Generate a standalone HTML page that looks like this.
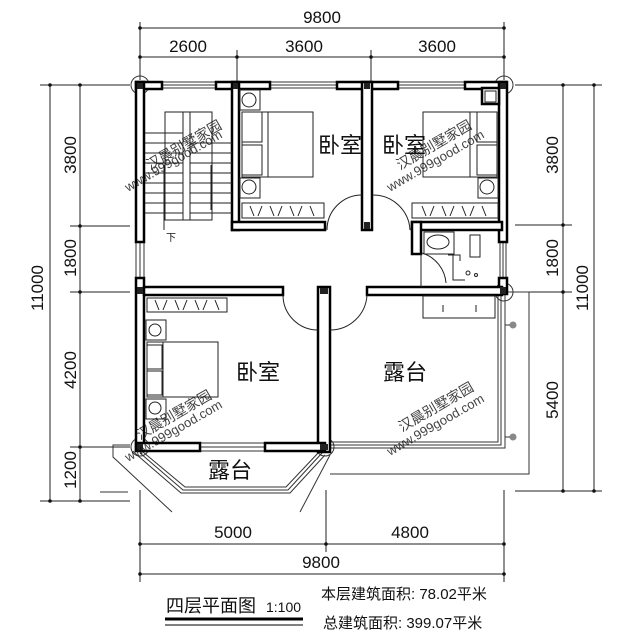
<!DOCTYPE html>
<html><head><meta charset="utf-8"><style>
html,body{margin:0;padding:0;background:#fff;}
svg{display:block;}
text{font-family:"Liberation Sans","Noto Sans CJK SC",sans-serif;fill:#111;}
</style></head><body>
<svg width="640" height="640" viewBox="0 0 640 640" xmlns="http://www.w3.org/2000/svg">
<g stroke="#222" stroke-width="1" fill="none">
<line x1="140" y1="28" x2="504" y2="28"/>
<line x1="140" y1="57" x2="504" y2="57"/>
<line x1="140" y1="22" x2="140" y2="80"/>
<line x1="504" y1="22" x2="504" y2="80"/>
<line x1="237" y1="50" x2="237" y2="90"/>
<line x1="371" y1="50" x2="371" y2="90"/>
<line x1="50" y1="85" x2="50" y2="501"/>
<line x1="80" y1="85" x2="80" y2="501"/>
<line x1="40" y1="85" x2="130" y2="85"/>
<line x1="70" y1="226" x2="130" y2="226"/>
<line x1="70" y1="292" x2="130" y2="292"/>
<line x1="70" y1="447" x2="130" y2="447"/>
<line x1="40" y1="501" x2="130" y2="501"/>
<line x1="563" y1="85" x2="563" y2="491"/>
<line x1="594" y1="85" x2="594" y2="491"/>
<line x1="515" y1="85" x2="602" y2="85"/>
<line x1="515" y1="225" x2="572" y2="225"/>
<line x1="515" y1="292" x2="572" y2="292"/>
<line x1="515" y1="491" x2="602" y2="491"/>
<line x1="140" y1="544" x2="504" y2="544"/>
<line x1="140" y1="574" x2="504" y2="574"/>
<line x1="140" y1="490" x2="140" y2="582"/>
<line x1="326" y1="490" x2="326" y2="552"/>
<line x1="504" y1="490" x2="504" y2="582"/>
</g>
<g fill="#111">
<circle cx="140" cy="28" r="1.8"/><circle cx="504" cy="28" r="1.8"/>
<circle cx="140" cy="57" r="1.8"/><circle cx="237" cy="57" r="1.8"/><circle cx="371" cy="57" r="1.8"/><circle cx="504" cy="57" r="1.8"/>
<circle cx="50" cy="85" r="1.8"/><circle cx="80" cy="85" r="1.8"/><circle cx="80" cy="226" r="1.8"/><circle cx="80" cy="292" r="1.8"/><circle cx="80" cy="447" r="1.8"/><circle cx="50" cy="501" r="1.8"/><circle cx="80" cy="501" r="1.8"/>
<circle cx="563" cy="85" r="1.8"/><circle cx="594" cy="85" r="1.8"/><circle cx="563" cy="225" r="1.8"/><circle cx="563" cy="292" r="1.8"/><circle cx="563" cy="491" r="1.8"/><circle cx="594" cy="491" r="1.8"/>
<circle cx="140" cy="544" r="1.8"/><circle cx="326" cy="544" r="1.8"/><circle cx="504" cy="544" r="1.8"/><circle cx="140" cy="574" r="1.8"/><circle cx="504" cy="574" r="1.8"/>
</g>
<g font-size="17" text-anchor="middle">
<text x="322" y="23">9800</text>
<text x="188" y="52">2600</text>
<text x="304" y="52">3600</text>
<text x="437" y="52">3600</text>
<text x="233" y="538">5000</text>
<text x="410" y="538">4800</text>
<text x="321" y="568">9800</text>
<text transform="translate(76,155) rotate(-90)">3800</text>
<text transform="translate(76,258) rotate(-90)">1800</text>
<text transform="translate(76,370) rotate(-90)">4200</text>
<text transform="translate(76,470) rotate(-90)">1200</text>
<text transform="translate(43,288) rotate(-90)">11000</text>
<text transform="translate(558,155) rotate(-90)">3800</text>
<text transform="translate(558,258) rotate(-90)">1800</text>
<text transform="translate(558,400) rotate(-90)">5400</text>
<text transform="translate(588,288) rotate(-90)">11000</text>
</g>
<g stroke="#333" fill="none" stroke-width="1">
<polyline points="507,292 529,292 529,474 330,474"/>
<polyline points="130,445 113,445 113,457 172,512"/>
<line x1="330" y1="455" x2="300" y2="512"/>
<line x1="100" y1="492" x2="128" y2="492"/>
<polyline points="140,453 183,490 288,490 322,453"/>
<polyline points="143,452 185,487 286,487 319,452"/>
<polyline points="137,455 181,493 290,493 325,455"/>
<polyline points="330,442 498,442 498,292"/>
<polyline points="330,445 501,445 501,292"/>
<polyline points="330,448 505,448 505,292"/>
<circle cx="140" cy="85" r="9"/><circle cx="504" cy="85" r="9"/>
<circle cx="504" cy="292" r="9"/><circle cx="140" cy="447" r="9"/><circle cx="325" cy="447" r="9"/>
</g>
<g fill="#888"><circle cx="513" cy="325" r="3.5"/><circle cx="513" cy="437" r="3.5"/></g>
<g stroke="#333"><line x1="505" y1="325" x2="510" y2="325"/><line x1="505" y1="437" x2="510" y2="437"/></g>
<g stroke="#333" stroke-width="1">
<line x1="162" y1="82" x2="216" y2="82"/><line x1="162" y1="85" x2="216" y2="85"/><line x1="162" y1="88" x2="216" y2="88"/>
<line x1="270" y1="82" x2="337" y2="82"/><line x1="270" y1="85" x2="337" y2="85"/><line x1="270" y1="88" x2="337" y2="88"/>
<line x1="398" y1="82" x2="465" y2="82"/><line x1="398" y1="85" x2="465" y2="85"/><line x1="398" y1="88" x2="465" y2="88"/>
<line x1="136" y1="242" x2="136" y2="278"/><line x1="140" y1="242" x2="140" y2="278"/><line x1="144" y1="242" x2="144" y2="278"/>
<line x1="500" y1="242" x2="500" y2="278"/><line x1="503" y1="242" x2="503" y2="278"/><line x1="506" y1="242" x2="506" y2="278"/>
<line x1="200" y1="443" x2="265" y2="443"/><line x1="200" y1="447" x2="265" y2="447"/><line x1="200" y1="451" x2="265" y2="451"/>
</g>
<g fill="#fff" stroke="#000" stroke-width="2.5">
<rect x="136" y="82" width="26" height="7"/>
<rect x="216" y="82" width="54" height="7"/>
<rect x="337" y="82" width="61" height="7"/>
<rect x="465" y="82" width="41" height="7"/>
<rect x="136" y="82" width="8" height="160"/>
<rect x="136" y="278" width="8" height="172"/>
<rect x="499" y="82" width="8" height="160"/>
<rect x="499" y="278" width="8" height="16"/>
<rect x="232" y="82" width="7" height="148"/>
<rect x="362" y="82" width="10" height="148"/>
<rect x="232" y="222" width="93" height="8"/>
<rect x="412" y="222" width="90" height="8"/>
<rect x="412" y="222" width="9" height="32"/>
<rect x="144" y="287" width="139" height="8"/>
<rect x="318" y="287" width="12" height="165"/>
<rect x="367" y="287" width="135" height="8"/>
<rect x="136" y="443" width="64" height="8"/>
<rect x="265" y="443" width="60" height="8"/>
<rect x="482" y="88" width="17" height="16"/>
</g>
<g fill="#222">
<rect x="137" y="83" width="6" height="6"/><rect x="500" y="83" width="6" height="6"/>
<rect x="233" y="83" width="5" height="6"/><rect x="364" y="83" width="6" height="6"/>
<rect x="137" y="287" width="6" height="7"/><rect x="500" y="287" width="6" height="7"/>
<rect x="137" y="444" width="6" height="6"/><rect x="320" y="444" width="8" height="6"/>
<rect x="320" y="288" width="8" height="6"/><rect x="364" y="222" width="6" height="7"/>
</g>
<g stroke="#222" fill="none" stroke-width="1">
<path d="M327,230 A35,35 0 0 1 362,195"/>
<path d="M373,195 A37,37 0 0 1 410,230"/>
<path d="M283,295 A35,35 0 0 0 318,330"/>
<path d="M330,330 A37,37 0 0 0 367,295"/>
<path d="M422,253 A34,34 0 0 1 446,283"/>
<rect x="165" y="112" width="47" height="108"/>
<rect x="183" y="112" width="7" height="108"/>
<line x1="145" y1="133" x2="183" y2="133"/><line x1="145" y1="143" x2="183" y2="143"/><line x1="145" y1="153" x2="183" y2="153"/><line x1="145" y1="163" x2="183" y2="163"/><line x1="145" y1="173" x2="183" y2="173"/><line x1="145" y1="183" x2="183" y2="183"/><line x1="145" y1="193" x2="183" y2="193"/><line x1="145" y1="203" x2="183" y2="203"/><line x1="145" y1="213" x2="183" y2="213"/>
<line x1="190" y1="143" x2="232" y2="143"/><line x1="190" y1="153" x2="232" y2="153"/><line x1="190" y1="163" x2="232" y2="163"/><line x1="190" y1="173" x2="232" y2="173"/><line x1="190" y1="183" x2="232" y2="183"/><line x1="190" y1="193" x2="232" y2="193"/><line x1="190" y1="203" x2="232" y2="203"/><line x1="190" y1="213" x2="232" y2="213"/>
<line x1="164" y1="165" x2="164" y2="230"/>
<line x1="211" y1="165" x2="211" y2="210"/>
<rect x="242" y="112" width="71" height="65"/><line x1="268" y1="112" x2="268" y2="177"/>
<rect x="242" y="112" width="20" height="30"/><rect x="242" y="145" width="20" height="30"/>
<rect x="423" y="112" width="74" height="65"/><line x1="470" y1="112" x2="470" y2="177"/>
<rect x="477" y="112" width="20" height="30"/><rect x="477" y="145" width="20" height="30"/>
<rect x="147" y="342" width="71" height="55"/><line x1="163" y1="342" x2="163" y2="397"/>
<rect x="147" y="345" width="15" height="24"/><rect x="147" y="371" width="15" height="24"/>
<rect x="240" y="90" width="20" height="20"/><circle cx="249" cy="100" r="7"/>
<rect x="240" y="178" width="20" height="20"/><circle cx="249" cy="187" r="7"/>
<rect x="478" y="178" width="20" height="20"/><circle cx="487" cy="187" r="7"/>
<rect x="146" y="320" width="20" height="20"/><circle cx="155" cy="330" r="6"/>
<rect x="146" y="399" width="20" height="20"/><circle cx="155" cy="408" r="6"/>
<rect x="485" y="91" width="11" height="11"/>
<rect x="242" y="203" width="82" height="15"/><rect x="412" y="203" width="86" height="15"/>
<rect x="147" y="298" width="80" height="14"/>
<path d="M250,206 l4,10 M262,206 l-4,10 M270,206 l4,10 M282,206 l-4,10 M290,206 l4,10 M302,206 l-4,10 M310,206 l4,10"/>
<path d="M422,206 l4,10 M434,206 l-4,10 M442,206 l4,10 M454,206 l-4,10 M462,206 l4,10 M474,206 l-4,10 M482,206 l4,10"/>
<path d="M155,300 l4,10 M167,300 l-4,10 M175,300 l4,10 M187,300 l-4,10 M195,300 l4,10 M207,300 l-4,10 M215,300 l4,10"/>
<line x1="421" y1="254" x2="421" y2="287"/>
<rect x="424" y="232" width="30" height="22"/><ellipse cx="438" cy="242" rx="11" ry="7"/>
<rect x="470" y="235" width="10" height="22"/>
<path d="M448,255 h12 v6 M453,255 v25 h12"/>
<circle cx="468" cy="273" r="2"/><circle cx="476" cy="275" r="1.5"/>
<rect x="423" y="296" width="72" height="22"/>
<line x1="443" y1="305" x2="443" y2="312"/><line x1="476" y1="305" x2="476" y2="312"/>
</g>
<text x="166" y="241" font-size="10">下</text>
<g font-size="22" text-anchor="middle">
<text x="340" y="153">卧室</text>
<text x="404" y="153">卧室</text>
<text x="258" y="380">卧室</text>
<text x="405" y="380">露台</text>
<text x="230" y="478">露台</text>
</g>
<g fill="#aaa" font-size="14" opacity="0.8">
<text transform="translate(150,170) rotate(-30)">汉晨别墅家园</text>
<text transform="translate(128,192) rotate(-30)" font-size="13">www.999good.com</text>
<text transform="translate(400,170) rotate(-30)">汉晨别墅家园</text>
<text transform="translate(390,192) rotate(-30)" font-size="13">www.999good.com</text>
<text transform="translate(140,440) rotate(-30)">汉晨别墅家园</text>
<text transform="translate(128,462) rotate(-30)" font-size="13">www.999good.com</text>
<text transform="translate(402,432) rotate(-30)">汉晨别墅家园</text>
<text transform="translate(390,456) rotate(-30)" font-size="13">www.999good.com</text>
</g>
<text x="166" y="612" font-size="18">四层平面图</text>
<text x="266" y="612" font-size="14">1:100</text>
<line x1="165" y1="619" x2="303" y2="619" stroke="#000" stroke-width="3"/>
<line x1="165" y1="625" x2="303" y2="625" stroke="#000" stroke-width="1"/>
<text x="321" y="599" font-size="15">本层建筑面积: 78.02平米</text>
<text x="323" y="628" font-size="15">总建筑面积: 399.07平米</text>
</svg>
</body></html>
